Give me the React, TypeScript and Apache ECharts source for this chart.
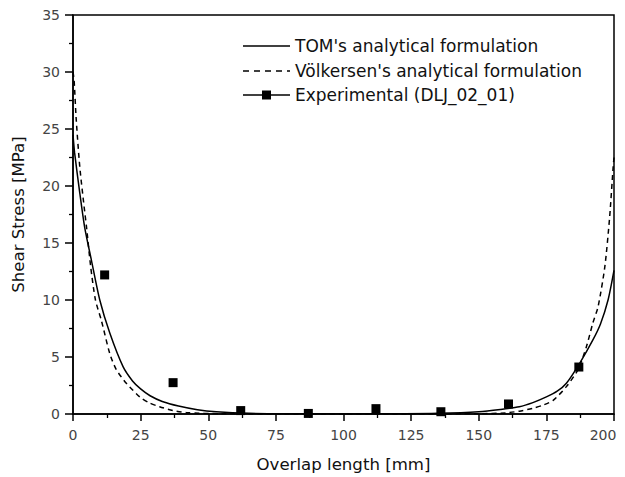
import React, { useEffect, useRef } from "react";
import * as echarts from "echarts";

const xTicks = [0, 25, 50, 75, 100, 125, 150, 175, 200];
const yTicks = [0, 5, 10, 15, 20, 25, 30, 35];

const tomCurve: [number, number][] = [
  [0, 24.5], [0.6, 22.9], [2.5, 19.4], [4.3, 16.4], [6.8, 13.5], [9.9, 10.0],
  [13.6, 7.1], [18.5, 4.15], [22, 2.9], [25, 2.2], [28.5, 1.6], [33, 1.1], [39, 0.7], [46, 0.38], [53, 0.2],
  [65, 0.06], [80, 0.02], [100, 0.01], [120, 0.02], [135, 0.06], [150, 0.2],
  [158, 0.4], [165, 0.64], [170, 1.0], [175, 1.5], [179, 2.0], [182.4, 2.7], [187.3, 4.45], [192.2, 6.5],
  [195, 7.9], [197.8, 10.0], [200, 12.6],
];

const volkersenCurve: [number, number][] = [
  [0, 30], [0.4, 29.3], [1.2, 25.8], [2.5, 21.7], [4.1, 18.2], [5, 16.4],
  [6.5, 13.0], [8.3, 10.0], [10.5, 8.2], [13.6, 5.3], [16, 3.9], [19.7, 2.7], [24.7, 1.5],
  [28, 1.0], [32, 0.64], [37, 0.3], [42, 0.12], [55, 0.02], [100, 0], [150, 0.02], [160, 0.1],
  [165, 0.25], [170, 0.5], [174, 0.8], [177.5, 1.2], [182.4, 2.4], [186.7, 3.9], [189.8, 5.9],
  [192.2, 8.0], [194.1, 9.4], [196.6, 12.9], [198.4, 17.3], [199.7, 21.7],
  [200, 22.5],
];

const experimental: [number, number][] = [
  [11.7, 12.2], [37, 2.75], [62, 0.3], [87, 0.05], [112, 0.47],
  [136, 0.2], [161, 0.88], [187, 4.12],
];

const seriesNames = [
  "TOM's analytical formulation",
  "Völkersen's analytical formulation",
  "Experimental (DLJ_02_01)",
];

const FONT = "DejaVu Sans, Liberation Sans, sans-serif";

export default function App() {
  const ref = useRef<HTMLDivElement>(null);
  useEffect(() => {
    if (!ref.current) return;
    const chart = echarts.init(ref.current, undefined, { renderer: "svg" });
    const legendRows = [46, 71, 95];
    const legendX1 = 243;
    const legendX2 = 290;
    const textX = 295;
    const xMax = xTicks[xTicks.length - 1];
    chart.setOption({
      animation: false,
      backgroundColor: "#fff",
      textStyle: { fontFamily: FONT },
      grid: {
        left: 73, right: 11, top: 15, bottom: 63,
        outerBoundsMode: "none", containLabel: false,
        show: true, borderColor: "#000", borderWidth: 1.5,
      },
      graphic: [
        {
          type: "line", silent: true,
          shape: { x1: legendX1, y1: legendRows[0], x2: legendX2, y2: legendRows[0] },
          style: { stroke: "#000", lineWidth: 1.5 },
        },
        {
          type: "line", silent: true,
          shape: { x1: legendX1, y1: legendRows[1], x2: legendX2, y2: legendRows[1] },
          style: { stroke: "#000", lineWidth: 1.5, lineDash: [6, 5] },
        },
        {
          type: "line", silent: true,
          shape: { x1: legendX1, y1: legendRows[2], x2: legendX2, y2: legendRows[2] },
          style: { stroke: "#000", lineWidth: 1.3 },
        },
        {
          type: "rect", silent: true,
          shape: { x: (legendX1 + legendX2) / 2 - 4.5, y: legendRows[2] - 4.5, width: 9, height: 9 },
          style: { fill: "#000" },
        },
        ...seriesNames.map((n, i) => ({
          type: "text", silent: true,
          x: textX, y: legendRows[i],
          style: {
            text: n, fill: "#111", fontSize: 17, fontFamily: FONT,
            textVerticalAlign: "middle", verticalAlign: "middle", align: "left",
          },
        })),
      ],
      xAxis: {
        type: "value", min: 0, max: xMax, interval: 25,
        name: "Overlap length [mm]", nameLocation: "middle", nameGap: 42,
        nameTextStyle: { fontSize: 16.6, color: "#111", fontFamily: FONT },
        axisLine: { show: true, onZero: false, lineStyle: { color: "#000", width: 1.5 } },
        axisTick: { show: true, inside: false, length: 7, lineStyle: { color: "#000", width: 1.5 } },
        minorTick: { show: true, splitNumber: 2, length: 4, lineStyle: { color: "#000", width: 1.3 } },
        axisLabel: {
          fontSize: 14, color: "#444", margin: 14, fontFamily: FONT,
          formatter: (v: number) =>
            v === xMax ? `{r|${v}}` : xTicks.includes(v) ? String(v) : "",
          rich: {
            r: { fontSize: 14, color: "#444", fontFamily: FONT, padding: [0, 22, 0, 0] },
          },
        },
        splitLine: { show: false },
      },
      yAxis: {
        type: "value", min: 0, max: 35, interval: 5,
        name: "Shear Stress [MPa]", nameLocation: "middle", nameGap: 46,
        nameTextStyle: { fontSize: 16.6, color: "#111", fontFamily: FONT },
        axisLine: { show: true, onZero: false, lineStyle: { color: "#000", width: 1.5 } },
        axisTick: { show: true, inside: false, length: 8, lineStyle: { color: "#000", width: 1.5 } },
        minorTick: { show: true, splitNumber: 2, length: 4, lineStyle: { color: "#000", width: 1.3 } },
        axisLabel: {
          fontSize: 14, color: "#444", margin: 13, fontFamily: FONT,
          formatter: (v: number) => (yTicks.includes(v) ? String(v) : ""),
        },
        splitLine: { show: false },
      },
      series: [
        {
          name: seriesNames[0], type: "line", data: tomCurve,
          showSymbol: false, symbol: "none", smooth: 0.25,
          lineStyle: { color: "#000", width: 1.5 }, itemStyle: { color: "#000" },
          clip: true,
        },
        {
          name: seriesNames[1], type: "line", data: volkersenCurve,
          showSymbol: false, symbol: "none", smooth: 0.25,
          lineStyle: { color: "#000", width: 1.5, type: [5, 4] }, itemStyle: { color: "#000" },
          clip: true,
        },
        {
          name: seriesNames[2], type: "scatter", data: experimental,
          symbol: "rect", symbolSize: 9, itemStyle: { color: "#000", opacity: 1 },
        },
      ],
    });
    return () => chart.dispose();
  }, []);
  return (
    <div
      ref={ref}
      style={{ position: "absolute", left: 0, top: 0, width: 625, height: 477 }}
    />
  );
}
